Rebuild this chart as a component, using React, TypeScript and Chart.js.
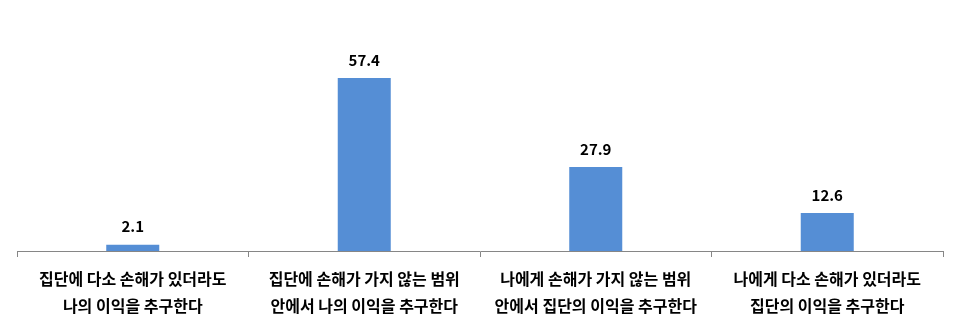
import React, { useEffect, useRef } from "react";
import { Chart, registerables } from "chart.js";

Chart.register(...registerables);

const categories: string[][] = [
  ["집단에 다소 손해가 있더라도", "나의 이익을 추구한다"],
  ["집단에 손해가 가지 않는 범위", "안에서 나의 이익을 추구한다"],
  ["나에게 손해가 가지 않는 범위", "안에서 집단의 이익을 추구한다"],
  ["나에게 다소 손해가 있더라도", "집단의 이익을 추구한다"],
];
const values: number[] = [2.1, 57.4, 27.9, 12.6];

const FONT = "'Noto Sans CJK KR', 'Noto Sans', sans-serif";

const labelPlugin = {
  id: "valueLabels",
  afterDatasetsDraw(chart: any) {
    const ctx = chart.ctx;
    const meta = chart.getDatasetMeta(0);
    ctx.save();
    ctx.font = `bold 15px ${FONT}`;
    ctx.fillStyle = "#000000";
    ctx.textAlign = "center";
    ctx.textBaseline = "middle";
    meta.data.forEach((bar: any, i: number) => {
      ctx.fillText(values[i].toFixed(1), bar.x, bar.y - 18);
    });
    ctx.restore();
  },
};

export default function App() {
  const ref = useRef<HTMLCanvasElement | null>(null);
  useEffect(() => {
    if (!ref.current) return;
    const chart = new Chart(ref.current, {
      type: "bar",
      data: {
        labels: categories,
        datasets: [
          {
            data: values,
            backgroundColor: "#558ED5",
            borderWidth: 0,
            categoryPercentage: 1,
            barPercentage: 0.229,
          },
        ],
      },
      options: {
        animation: false,
        responsive: false,
        maintainAspectRatio: false,
        layout: { padding: { top: 40, left: 17, right: 17, bottom: 0 } },
        plugins: { legend: { display: false }, tooltip: { enabled: false } },
        scales: {
          x: {
            offset: true,
            grid: {
              offset: true,
              drawOnChartArea: false,
              drawTicks: true,
              tickLength: 6,
              color: "#868686",
              lineWidth: 1,
            },
            border: { display: true, color: "#868686", width: 1 },
            ticks: {
              color: "#000000",
              font: { family: FONT, size: 16, weight: "bold", lineHeight: 1.69 },
              padding: 8,
              maxRotation: 0,
              autoSkip: false,
            },
            afterFit: (axis: any) => {
              axis.height = 84;
            },
          },
          y: {
            display: false,
            min: 0,
            max: 70,
          },
        },
      },
      plugins: [labelPlugin],
    });
    return () => chart.destroy();
  }, []);
  return (
    <div style={{ position: "fixed", left: 0, top: 0, width: 960, height: 335, background: "#fff" }}>
      <canvas ref={ref} width={960} height={335} style={{ width: 960, height: 335 }} />
    </div>
  );
}
